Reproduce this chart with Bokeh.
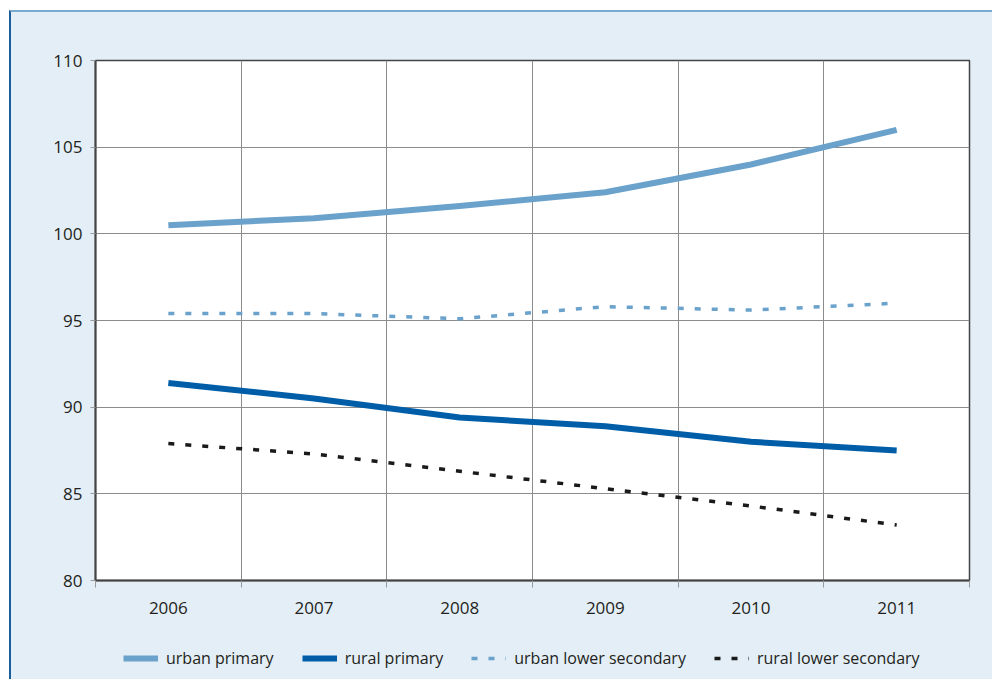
from bokeh.plotting import figure
from bokeh.models import FixedTicker, Legend, LegendItem
from bokeh.layouts import column
from bokeh.embed import file_html
from bokeh.resources import INLINE

years = ["2006", "2007", "2008", "2009", "2010", "2011"]
urban_primary = [100.5, 100.9, 101.6, 102.4, 104.0, 106.0]
rural_primary = [91.4, 90.5, 89.4, 88.9, 88.0, 87.5]
urban_lower_secondary = [95.4, 95.4, 95.1, 95.8, 95.6, 96.0]
rural_lower_secondary = [87.9, 87.3, 86.3, 85.3, 84.3, 83.2]
y_ticks = [80, 85, 90, 95, 100, 105, 110]
series_labels = ["urban primary", "rural primary", "urban lower secondary", "rural lower secondary"]

xs = [i + 0.5 for i in range(len(years))]
bg = "#e3eef6"
font = "Open Sans"
styles = [
    dict(line_color="#6aa2cc", line_width=6, line_join="round"),
    dict(line_color="#005ea8", line_width=6, line_join="round"),
    dict(line_color="#6aa2cc", line_width=3.5, line_dash="6 11"),
    dict(line_color="#1a1a1a", line_width=3.5, line_dash="6 11"),
]

p = figure(width=981, height=613, output_backend="svg", toolbar_location=None,
           x_range=(0, len(years)), y_range=(80, 110),
           min_border_left=84, min_border_right=23, min_border_top=48, min_border_bottom=45)
p.border_fill_color = bg
p.background_fill_color = "white"
p.outline_line_color = "#444444"
p.outline_line_width = 1.5

# x axis: labels at category centres, ticks at boundaries
p.xaxis.ticker = FixedTicker(ticks=xs, minor_ticks=list(range(len(years) + 1)))
p.xaxis.major_label_overrides = {x: y for x, y in zip(xs, years)}
p.xaxis.major_tick_line_color = None
p.xaxis.major_tick_out = 0
p.xaxis.major_tick_in = 0
p.xaxis.minor_tick_line_color = "#999999"
p.xaxis.minor_tick_out = 7
p.xaxis.minor_tick_in = 0
p.xaxis.major_label_standoff = 14
p.xgrid.ticker = FixedTicker(ticks=list(range(1, len(years))))

p.yaxis.ticker = FixedTicker(ticks=y_ticks)
p.yaxis.minor_tick_line_color = None
p.yaxis.major_tick_line_color = "#999999"
p.yaxis.major_tick_out = 5
p.yaxis.major_tick_in = 0
p.yaxis.major_label_standoff = 8

for ax in (p.xaxis, p.yaxis):
    ax.axis_line_color = "#444444"
    ax.axis_line_width = 2
    ax.major_label_text_font = font
    ax.major_label_text_font_size = "17px"
    ax.major_label_text_color = "#231f20"

for g in (p.xgrid, p.ygrid):
    g.grid_line_color = "#8c8c8c"
    g.grid_line_width = 1

for ys, st in zip([urban_primary, rural_primary, urban_lower_secondary, rural_lower_secondary], styles):
    p.line(xs, ys, **st)

# legend strip below the chart (its frame is aligned with the chart's frame by the column)
q = figure(width=981, height=54, output_backend="svg", toolbar_location=None,
           x_axis_type=None, y_axis_type=None, x_range=(0, 1), y_range=(0, 1),
           min_border=0, min_border_left=0, min_border_right=0, min_border_top=0, min_border_bottom=0)
q.border_fill_color = bg
q.background_fill_color = bg
q.outline_line_color = None
q.xgrid.visible = False
q.ygrid.visible = False
items = []
for lab, st in zip(series_labels, styles):
    r = q.line([-10, -9], [-10, -9], **st)  # off-screen proxy, only used for the legend glyph
    items.append(LegendItem(label=lab, renderers=[r]))
legend = Legend(items=items, orientation="horizontal", location=(28, 10))
legend.background_fill_alpha = 0
legend.border_line_color = None
legend.label_text_font = font
legend.label_text_font_size = "16px"
legend.label_text_color = "#231f20"
legend.glyph_width = 35
legend.label_standoff = 8
legend.spacing = 28
legend.margin = 0
legend.padding = 5
q.add_layout(legend, "center")

layout = column(p, q, spacing=0)
layout.styles = {"border-top": "2px solid #7aaad0", "border-left": "2px solid #1a5e9e",
                 "margin-left": "9px", "margin-top": "10px", "background-color": bg}

open("out.html", "w").write(file_html(layout, INLINE))
